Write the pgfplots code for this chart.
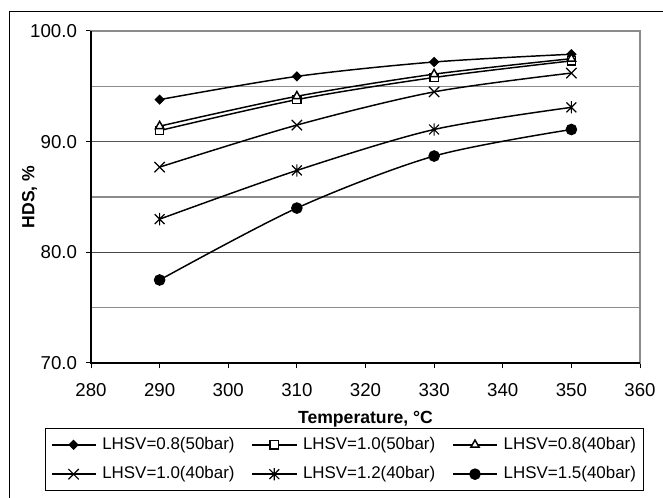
\documentclass[border=0pt]{standalone}
\usepackage{pgfplots}
\pgfplotsset{compat=1.18}
\usepackage{fontspec}
\setmainfont{Liberation Sans}
\newfontfamily\tickfont{Liberation Sans}[Scale=1.4]
\newfontfamily\labfont{Liberation Sans}[Scale=1.32]
\newfontfamily\legfont{Liberation Sans}[Scale=1.27]
\definecolor{gridgray}{RGB}{140,140,140}
\definecolor{darkgrid}{RGB}{70,70,70}

\pgfdeclareplotmark{xstar}{%
  \pgfpathmoveto{\pgfqpoint{0pt}{\pgfplotmarksize}}%
  \pgfpathlineto{\pgfqpoint{0pt}{-\pgfplotmarksize}}%
  \pgfpathmoveto{\pgfqpoint{-.8\pgfplotmarksize}{-.8\pgfplotmarksize}}%
  \pgfpathlineto{\pgfqpoint{.8\pgfplotmarksize}{.8\pgfplotmarksize}}%
  \pgfpathmoveto{\pgfqpoint{-.8\pgfplotmarksize}{.8\pgfplotmarksize}}%
  \pgfpathlineto{\pgfqpoint{.8\pgfplotmarksize}{-.8\pgfplotmarksize}}%
  \pgfusepathqstroke}

\begin{document}
\begin{tikzpicture}
\begin{axis}[
  name=ax,
  width=411.75pt, height=249pt, scale only axis,
  xmin=280, xmax=360, ymin=70, ymax=100,
  xtick={280,290,...,360}, ytick={70,80,90,100}, minor ytick={75,85,95},
  ymajorgrids, yminorgrids,
  major grid style={gridgray, line width=0.9pt},
  minor grid style={gridgray, line width=0.9pt},
  axis line style={gridgray, line width=0.9pt},
  tick align=outside, xtick pos=bottom, ytick pos=left,
  major tick length=4pt, minor tick length=0pt,
  tick style={black, line width=0.75pt},
  /pgf/number format/assume math mode=true,
  yticklabel style={/pgf/number format/.cd, fixed, fixed zerofill, precision=1, /tikz/.cd, font=\tickfont, xshift=-3pt},
  xticklabel style={font=\tickfont, yshift=-8pt},
  xlabel={\textbf{Temperature, °C}},
  ylabel={\textbf{HDS, \%}},
  every axis x label/.style={at={(axis description cs:0.5,0)}, anchor=center, yshift=-42pt, font=\labfont},
  every axis y label/.style={at={(axis description cs:0,0.5)}, xshift=-46pt, rotate=90, anchor=center, font=\labfont},
  legend columns=3,
  legend image code/.code={\draw[mark repeat=2,mark phase=2] plot coordinates {(0pt,0pt) (16.5pt,0pt) (33pt,0pt)};},
  legend style={at={(0,0)}, anchor=north west, xshift=-34.5pt, yshift=-48.75pt,
    draw=black, line width=0.75pt, inner xsep=4pt, inner ysep=4.5pt,
    font=\legfont,
    nodes={inner sep=2pt, text height=9pt, text depth=2.5pt},
    row sep=6.5pt,
    /tikz/every odd column/.append style={column sep=2.5pt},
    /tikz/every even column/.append style={column sep=10.75pt}},
  every axis plot/.append style={black, line width=1.1pt, smooth, mark options={solid, line width=0.9pt}},
]
\draw[darkgrid, line width=0.9pt] (axis cs:280,80) -- (axis cs:360,80);
\draw[darkgrid!80!gridgray, line width=0.9pt] (axis cs:280,90) -- (axis cs:360,90);
\addplot[mark=square*, mark size=2.2pt, mark options={rotate=45, fill=black}] coordinates {(290,93.8) (310,95.9) (330,97.2) (350,97.9)};
\addlegendentry{LHSV=0.8(50bar)}
\addplot[mark=square*, mark size=3.1pt, mark options={fill=white}] coordinates {(290,91.0) (310,93.8) (330,95.8) (350,97.3)};
\addlegendentry{LHSV=1.0(50bar)}
\addplot[mark=triangle*, mark size=3.6pt, mark options={fill=white}] coordinates {(290,91.4) (310,94.1) (330,96.1) (350,97.5)};
\addlegendentry{LHSV=0.8(40bar)}
\addplot[mark=x, mark size=5.5pt] coordinates {(290,87.7) (310,91.5) (330,94.5) (350,96.2)};
\addlegendentry{LHSV=1.0(40bar)}
\addplot[mark=xstar, mark size=4.6pt] coordinates {(290,83.0) (310,87.4) (330,91.1) (350,93.1)};
\addlegendentry{LHSV=1.2(40bar)}
\addplot[mark=*, mark size=3.8pt, mark options={fill=black}] coordinates {(290,77.5) (310,84.0) (330,88.7) (350,91.1)};
\addlegendentry{LHSV=1.5(40bar)}
\end{axis}
\draw[black, line width=0.9pt] (ax.north west) -- (ax.south west) -- (ax.south east);
\draw[black, line width=0.75pt] (-60.75pt,-101.25pt) -- (-60.75pt,263.25pt) -- (429pt,263.25pt);
\pgfresetboundingbox
\useasboundingbox (-68.25pt,-101.25pt) rectangle (429pt,272.25pt);
\end{tikzpicture}
\end{document}
